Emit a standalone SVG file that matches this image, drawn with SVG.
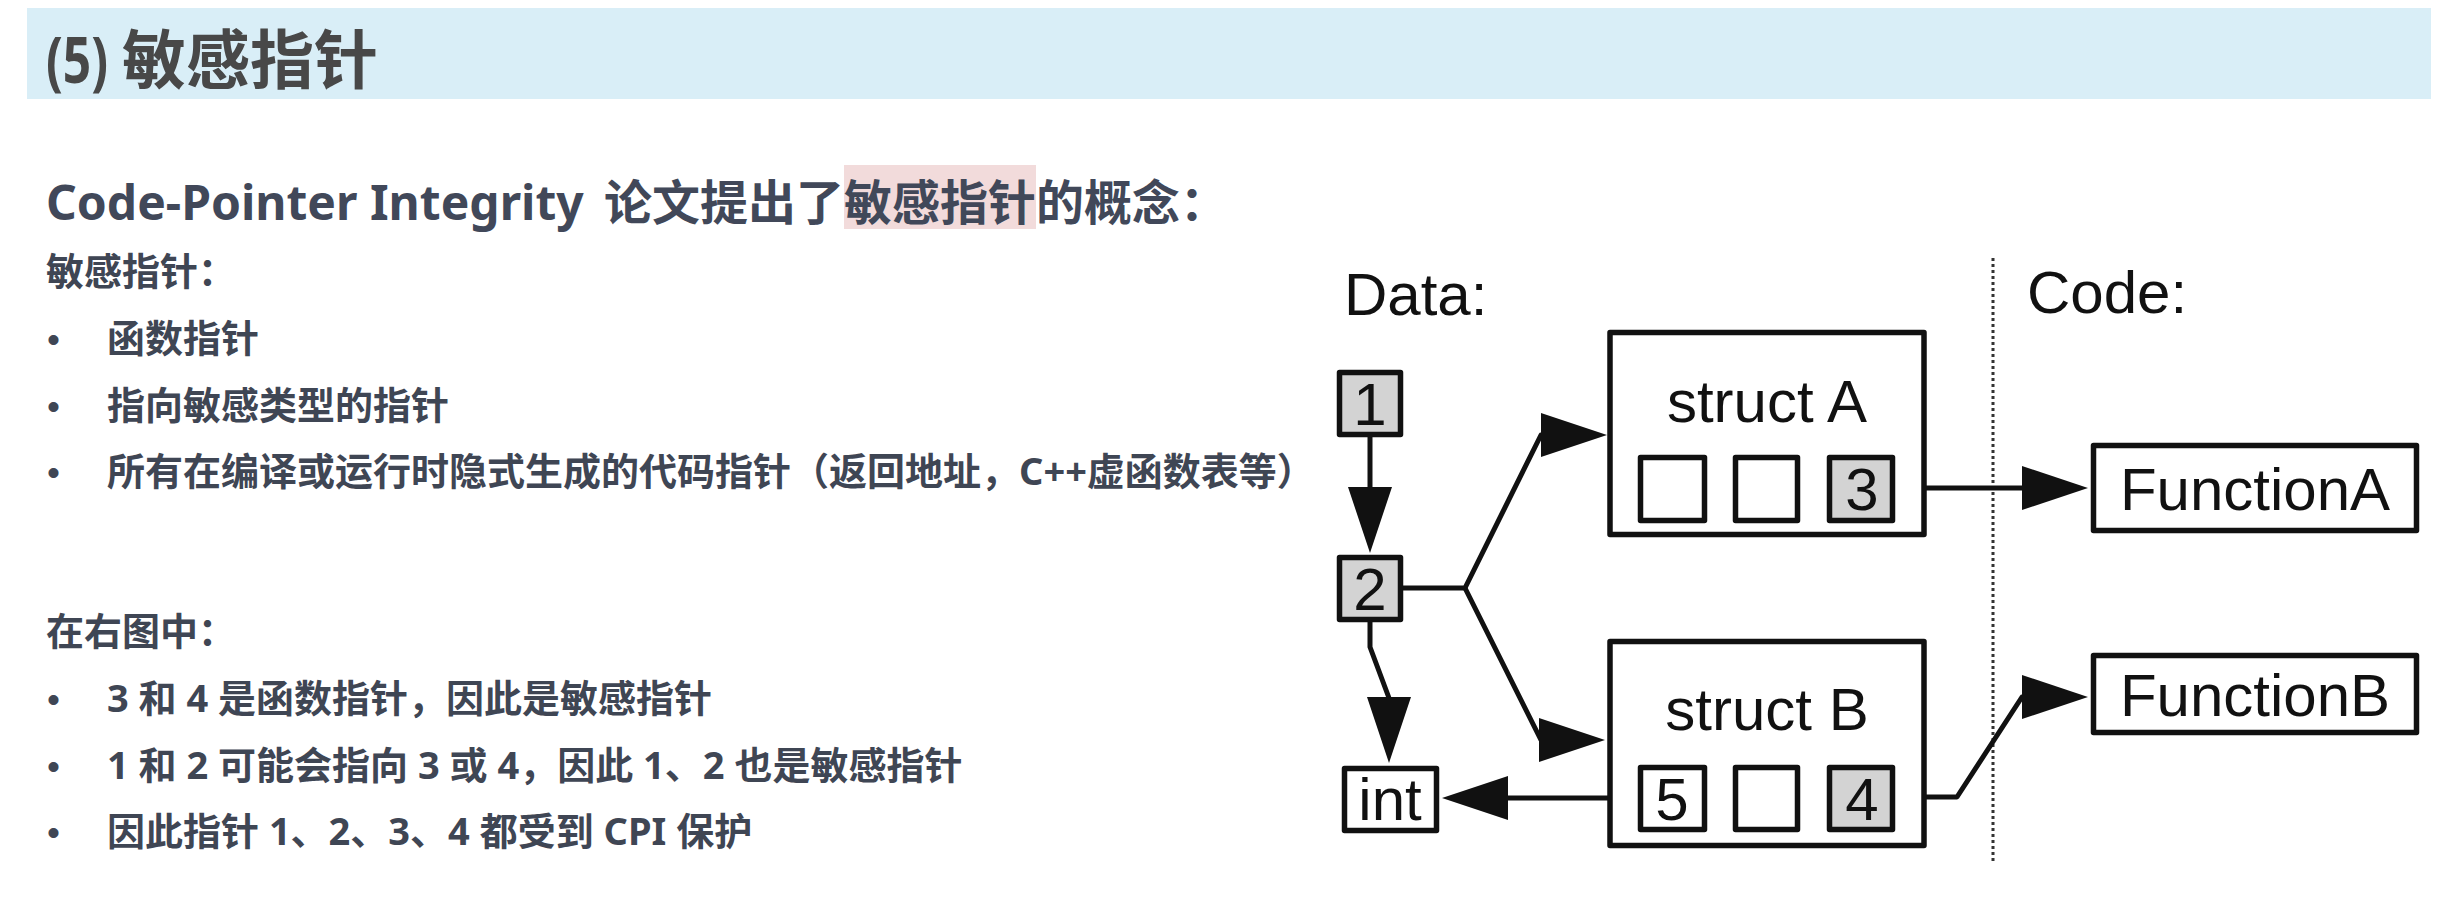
<svg xmlns="http://www.w3.org/2000/svg" width="2462" height="914" viewBox="0 0 2462 914">
<style>
.ttl{font-family:"Noto Sans","Noto Sans CJK SC",sans-serif;font-weight:700;fill:#484848}
.sub{font-family:"Noto Sans","Noto Sans CJK SC",sans-serif;font-weight:700;font-size:48px;fill:#414859}
.body{font-family:"Noto Sans","Noto Sans CJK SC",sans-serif;font-weight:700;font-size:38px;fill:#3f4654}
.bul{font-family:"Liberation Sans",sans-serif;font-size:37px;fill:#3f4654}
.lbl{font-family:"Liberation Sans",Arial,sans-serif;font-size:60px;fill:#111}
.mid{text-anchor:middle}
.box{fill:#fff;stroke:#111;stroke-width:5.5;stroke-linejoin:round}
.ptr{fill:#d3d3d3;stroke:#111;stroke-width:5.5;stroke-linejoin:round}
.edge{fill:none;stroke:#111;stroke-width:5;stroke-linejoin:round;marker-end:url(#ah)}
</style>
<defs>
<marker id="ah" markerUnits="userSpaceOnUse" markerWidth="66" markerHeight="44" refX="46" refY="22" orient="auto" overflow="visible">
<path d="M0,0 L66,22 L0,44 Z" fill="#111"/>
</marker>
</defs>
<rect width="2462" height="914" fill="#ffffff"/>
<g id="header">
<rect x="27" y="8" width="2404" height="91" fill="#d9eef7"/>
<text class="ttl" x="46" y="83" font-size="64" textLength="62" lengthAdjust="spacingAndGlyphs">(5)</text>
<text class="ttl" x="122" y="83" font-size="64">敏感指针</text>
</g>
<g id="intro">
<rect x="844" y="165" width="192" height="64" fill="#f2dbdb"/>
<text class="sub" y="220"><tspan x="46">Code-Pointer Integrity</tspan><tspan x="604">论文提出了</tspan><tspan x="844">敏感指针</tspan><tspan x="1036">的概念：</tspan></text>
</g>
<g id="list1">
<text class="body" x="46" y="285">敏感指针：</text>
<text class="bul" x="47" y="352">•</text><text class="body" x="107" y="352">函数指针</text>
<text class="bul" x="47" y="419">•</text><text class="body" x="107" y="419">指向敏感类型的指针</text>
<text class="bul" x="47" y="485">•</text><text class="body" x="107" y="485">所有在编译或运行时隐式生成的代码指针（返回地址，C++虚函数表等）</text>
</g>
<g id="list2">
<text class="body" x="46" y="645">在右图中：</text>
<text class="bul" x="47" y="712">•</text><text class="body" x="107" y="712">3 和 4 是函数指针，因此是敏感指针</text>
<text class="bul" x="47" y="779">•</text><text class="body" x="107" y="779">1 和 2 可能会指向 3 或 4，因此 1、2 也是敏感指针</text>
<text class="bul" x="47" y="845">•</text><text class="body" x="107" y="845">因此指针 1、2、3、4 都受到 CPI 保护</text>
</g>
<g id="labels">
<text class="lbl" x="1344" y="315">Data:</text>
<text class="lbl" x="2027" y="313">Code:</text>
<line x1="1993" y1="258" x2="1993" y2="862" stroke="#333" stroke-width="3" stroke-dasharray="3 3"/>
</g>
<g id="connectors">
<path class="edge" d="M1370,437 V533"/>
<path class="edge" d="M1403,588 H1465 L1541,435 H1587"/>
<path class="edge" d="M1465,588 L1541,740 H1585"/>
<path class="edge" d="M1370,622 V647 L1389,698 V743"/>
<path class="edge" d="M1638,798 H1462"/>
<path class="edge" d="M1895,488 H2068"/>
<path class="edge" d="M1895,797 H1957 L2022,697 H2068"/>
</g>
<g id="node-1">
<rect class="ptr" x="1339.5" y="372.5" width="61" height="62"/>
<text class="lbl mid" x="1370" y="425">1</text>
</g>
<g id="node-2">
<rect class="ptr" x="1339.5" y="557.5" width="61" height="62"/>
<text class="lbl mid" x="1370" y="610">2</text>
</g>
<g id="node-int">
<rect class="box" x="1344.5" y="768.5" width="92" height="62"/>
<text class="lbl mid" x="1390" y="820">int</text>
</g>
<g id="node-structA">
<rect class="box" x="1610" y="332.5" width="314" height="202"/>
<text class="lbl mid" x="1767" y="422">struct A</text>
<rect class="box" x="1640.5" y="457.5" width="64" height="63"/>
<rect class="box" x="1735.5" y="457.5" width="62" height="63"/>
<rect class="ptr" x="1829.5" y="457.5" width="63" height="63"/>
<text class="lbl mid" x="1862" y="510">3</text>
</g>
<g id="node-structB">
<rect class="box" x="1610" y="641.5" width="314" height="204"/>
<text class="lbl mid" x="1767" y="730">struct B</text>
<rect class="box" x="1640.5" y="767.5" width="64" height="62"/>
<text class="lbl mid" x="1672" y="820">5</text>
<rect class="box" x="1735.5" y="767.5" width="62" height="62"/>
<rect class="ptr" x="1829.5" y="767.5" width="63" height="62"/>
<text class="lbl mid" x="1862" y="820">4</text>
</g>
<g id="node-functionA">
<rect class="box" x="2093.5" y="445.5" width="323" height="85"/>
<text class="lbl mid" x="2255" y="510">FunctionA</text>
</g>
<g id="node-functionB">
<rect class="box" x="2093.5" y="655.5" width="323" height="77"/>
<text class="lbl mid" x="2255" y="716">FunctionB</text>
</g>
</svg>
